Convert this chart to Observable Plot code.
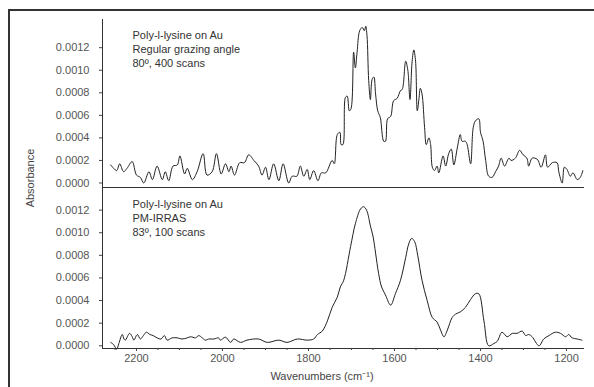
<!DOCTYPE html>
<html><head><meta charset="utf-8">
<script src="https://cdn.jsdelivr.net/npm/d3@7"></script>
<script src="https://cdn.jsdelivr.net/npm/@observablehq/plot@0.6"></script>
<style>
body{margin:0;background:#fff;}
#wrap{position:relative;width:594px;height:387px;overflow:hidden;font-family:"Liberation Sans",Arial,sans-serif;}
#frame{position:absolute;left:8px;top:9px;width:700px;height:500px;border-left:2px solid #333;border-top:2px solid #333;}
#top,#bot{position:absolute;left:0;}
#top{top:0}
#bot{top:184px}
#ylab{position:absolute;left:30px;top:178px;transform:translate(-50%,-50%) rotate(-90deg);font-size:11px;color:#444;white-space:nowrap;}
</style></head><body>
<div id="wrap"><div id="frame"></div><div id="top"></div><div id="bot"></div><div id="ylab">Absorbance</div></div>
<script>
// Top spectrum: regular grazing angle
const topWn = [2260,2253,2246,2239,2230,2222,2210,2200,2191,2183,2171,2163,2152,2140,2133,2125,2115,2105,2099,2088,2082,2070,2059,2045,2036,2024,2014,2003,1993,1985,1980,1972,1960,1949,1939,1927,1916,1908,1900,1892,1881,1869,1859,1846,1838,1827,1819,1811,1803,1797,1788,1778,1770,1760,1745,1740,1733,1727,1724,1720,1714,1710,1705,1701,1695,1691,1687,1681,1675,1670,1667,1664,1660,1656,1652,1648,1644,1639,1633,1625,1621,1616,1609,1602,1594,1586,1582,1574,1569,1564,1559,1555,1551,1547,1543,1540,1536,1530,1526,1520,1516,1512,1507,1501,1497,1487,1481,1474,1468,1462,1454,1447,1443,1435,1431,1423,1417,1412,1404,1400,1394,1388,1381,1373,1365,1358,1352,1344,1334,1329,1319,1309,1301,1292,1288,1280,1268,1259,1249,1244,1233,1222,1218,1210,1205,1199,1191,1185,1175,1168,1162];
const topAbs = [0.00016,0.00013,0.00011,0.00017,0.00010,0.00013,0.00019,0.00007,0.00005,0.00000,0.00010,0.00003,0.00015,0.00003,0.00010,0.00002,0.00015,0.00016,0.00024,0.00008,0.00013,0.00003,0.00010,0.00026,0.00007,0.00010,0.00026,0.00008,0.00017,0.00010,0.00015,0.00007,0.00018,0.00018,0.00025,0.00020,0.00015,0.00007,0.00014,0.00003,0.00017,0.00002,0.00017,0.00000,0.00006,0.00006,0.00015,0.00006,0.00012,0.00003,0.00011,0.00002,0.00009,0.00009,0.00020,0.00017,0.00043,0.00045,0.00034,0.00034,0.00076,0.00077,0.00064,0.00066,0.00116,0.00102,0.00116,0.00135,0.00138,0.00135,0.00139,0.00131,0.00091,0.00074,0.00092,0.00094,0.00079,0.00064,0.00058,0.00037,0.00037,0.00057,0.00059,0.00073,0.00075,0.00082,0.00083,0.00108,0.00100,0.00074,0.00108,0.00118,0.00108,0.00064,0.00075,0.00084,0.00079,0.00049,0.00034,0.00040,0.00034,0.00014,0.00011,0.00015,0.00009,0.00024,0.00015,0.00026,0.00030,0.00016,0.00031,0.00043,0.00037,0.00037,0.00034,0.00017,0.00049,0.00055,0.00057,0.00045,0.00037,0.00020,0.00006,0.00005,0.00010,0.00015,0.00022,0.00015,0.00022,0.00020,0.00022,0.00029,0.00025,0.00022,0.00015,0.00022,0.00021,0.00014,0.00025,0.00014,0.00018,0.00018,0.00010,0.00000,0.00014,0.00012,0.00006,0.00009,0.00003,0.00005,0.00011];

// Bottom spectrum: PM-IRRAS
const botWn = [2260,2253,2246,2241,2233,2229,2226,2216,2210,2206,2198,2191,2184,2177,2169,2161,2152,2143,2135,2129,2117,2105,2094,2082,2074,2063,2055,2047,2040,2032,2020,2009,2005,1993,1981,1974,1958,1943,1916,1896,1869,1850,1826,1803,1788,1779,1768,1756,1745,1733,1726,1718,1702,1691,1679,1672,1665,1656,1650,1644,1637,1630,1621,1609,1598,1586,1574,1567,1560,1553,1546,1536,1524,1512,1501,1493,1485,1477,1466,1458,1447,1435,1423,1412,1404,1392,1381,1369,1361,1350,1338,1326,1315,1303,1295,1288,1280,1264,1253,1241,1226,1214,1202,1195,1187,1175,1164];
const botAbs = [0.00003,0.00001,-0.00003,0.00002,0.00010,0.00006,0.00005,0.00011,0.00008,0.00005,0.00010,0.00006,0.00009,0.00012,0.00010,0.00009,0.00007,0.00006,0.00009,0.00005,0.00007,0.00007,0.00006,0.00007,0.00008,0.00007,0.00009,0.00007,0.00005,0.00006,0.00006,0.00007,0.00005,0.000076,0.00003,0.00006,0.00003,0.00005,0.00006,0.00003,0.00005,0.00003,0.00006,0.00005,0.00006,0.00010,0.00013,0.00022,0.00034,0.00043,0.00052,0.00058,0.00088,0.00108,0.00121,0.00123,0.00120,0.00106,0.00097,0.00082,0.00064,0.00052,0.00045,0.00036,0.00046,0.00058,0.00078,0.00090,0.00095,0.00092,0.00080,0.00058,0.00040,0.00025,0.00021,0.00014,0.00008,0.00014,0.00025,0.00028,0.00030,0.00034,0.00041,0.00046,0.00046,0.00022,0.00000,0.00002,0.00004,0.00012,0.00008,0.00011,0.00011,0.00013,0.00009,0.00010,0.00008,0.00000,0.00006,0.00009,0.00012,0.00011,0.00008,0.00010,0.00007,0.00006,0.00005];

const yTicks = [0, 0.0002, 0.0004, 0.0006, 0.0008, 0.0010, 0.0012];
const xTicks = [2200, 2000, 1800, 1600, 1400, 1200];
const xMinorTicks = d3.range(1200, 2300, 50);
const topNote = "Poly-l-lysine on Au\nRegular grazing angle\n80º, 400 scans";
const botNote = "Poly-l-lysine on Au\nPM-IRRAS\n83º, 100 scans";
const xTitle = "Wavenumbers (cm⁻¹)";

const topData = topWn.map((w, i) => ({wn: w, a: topAbs[i]}));
const botData = botWn.map((w, i) => ({wn: w, a: botAbs[i]}));

const xDomain = [2279, 1160.5];
const font = {fontFamily: '"Liberation Sans", Arial, sans-serif', fontSize: "11px", background: "transparent", overflow: "visible"};
const fmtY = d3.format(".4f");

const topPlot = Plot.plot({
  width: 594, height: 190,
  marginLeft: 102, marginRight: 11, marginTop: 19, marginBottom: 3,
  style: font,
  x: {domain: xDomain, axis: null},
  y: {domain: [-0.00004, 0.00145]},
  marks: [
    Plot.frame({anchor: "left", stroke: "#333"}),
    Plot.frame({anchor: "bottom", stroke: "#333"}),
    Plot.axisY({ticks: yTicks, tickFormat: fmtY, tickSize: 3, tickPadding: 10, label: null, fill: "#555", stroke: "#444"}),
    Plot.line(topData, {x: "wn", y: "a", stroke: "#222", strokeWidth: 1, curve: "catmull-rom"}),
    Plot.text([topNote], {frameAnchor: "top-left", dx: 30, dy: 10, lineAnchor: "top", textAnchor: "start", fill: "#333", lineHeight: 1.27, fontSize: 11})
  ]
});
document.getElementById("top").appendChild(topPlot);

const botPlot = Plot.plot({
  width: 594, height: 203,
  marginLeft: 102, marginRight: 11, marginTop: 3, marginBottom: 39,
  style: font,
  x: {domain: xDomain},
  y: {domain: [-0.000024, 0.0014]},
  marks: [
    Plot.frame({anchor: "left", stroke: "#333"}),
    Plot.frame({anchor: "bottom", stroke: "#333"}),
    Plot.axisY({ticks: yTicks, tickFormat: fmtY, tickSize: 3, tickPadding: 10, label: null, fill: "#555", stroke: "#444"}),
    Plot.axisX({ticks: xMinorTicks, tickSize: 2, text: null, label: null, stroke: "#444"}),
    Plot.axisX({ticks: xTicks, tickFormat: d3.format("d"), tickSize: 3, tickPadding: 3, label: null, fill: "#555", stroke: "#444"}),
    Plot.line(botData, {x: "wn", y: "a", stroke: "#222", strokeWidth: 1, curve: "catmull-rom"}),
    Plot.text([botNote], {frameAnchor: "top-left", dx: 30, dy: 11, lineAnchor: "top", textAnchor: "start", fill: "#333", lineHeight: 1.27, fontSize: 11}),
    Plot.text([xTitle], {frameAnchor: "bottom", dx: -21, dy: 31, fill: "#444", fontSize: 11})
  ]
});
document.getElementById("bot").appendChild(botPlot);
</script>
</body></html>
